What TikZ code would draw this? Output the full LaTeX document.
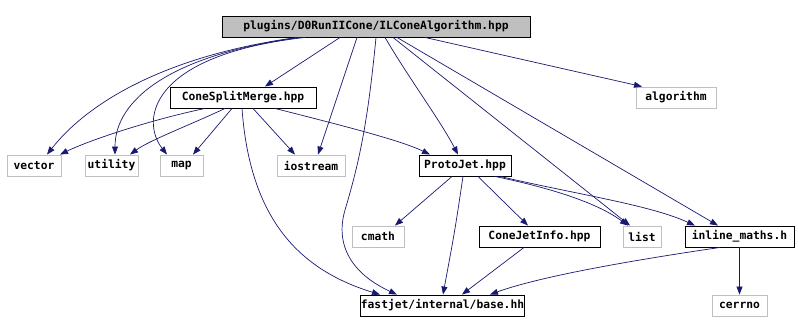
\documentclass[tikz,border=0pt]{standalone}
\usepackage{fontspec}
\newfontfamily\dotfont{DejaVu Sans Mono}
\usetikzlibrary{arrows.meta}
\definecolor{edgeblue}{HTML}{191970}
\definecolor{sysgrey}{HTML}{BFBFBF}

\begin{document}
\begin{tikzpicture}[
  x=1pt, y=-1pt,
  box/.style={draw, line width=0.9pt, minimum height=21pt, inner sep=0pt,
              font=\dotfont\bfseries\fontsize{11.3}{13}\selectfont},
  proj/.style={box, draw=black},
  sys/.style={box, draw=sysgrey},
  root/.style={box, draw=black, fill=sysgrey},
  dep/.style={-{Triangle[length=8pt, width=6pt]}, edgeblue, line width=0.7pt}
]
  \useasboundingbox (0,0) rectangle (798,332);

  \node[root, minimum width=308pt] (Algo) at (376,26.5)
        {plugins/D0RunIICone/ILConeAlgorithm.hpp};

  \node[proj, minimum width=146pt] (Split) at (243,97.5) {ConeSplitMerge.hpp};
  \node[sys,  minimum width=80pt]  (Algm)  at (676,97.5) {algorithm};

  \node[sys,  minimum width=54pt]  (Vec)   at (34,165.5)  {vector};
  \node[sys,  minimum width=53pt]  (Util)  at (111.5,165.5) {utility};
  \node[sys,  minimum width=43pt]  (Map)   at (181.5,165.5) {map};
  \node[sys,  minimum width=68pt]  (Iost)  at (311,165.5) {iostream};
  \node[proj, minimum width=92pt]  (Proto) at (465,165.5) {ProtoJet.hpp};

  \node[sys,  minimum width=52pt]  (Cmath) at (378,236.5) {cmath};
  \node[proj, minimum width=121pt] (Info)  at (539.5,236.5) {ConeJetInfo.hpp};
  \node[sys,  minimum width=38pt]  (List)  at (642,236.5) {list};
  \node[proj, minimum width=109pt] (Inl)   at (739.5,236.5) {inline\_maths.h};

  \node[proj, minimum width=163pt] (Base)  at (442.5,305.5) {fastjet/internal/base.hh};
  \node[sys,  minimum width=55pt]  (Cerr)  at (739.5,305.5) {cerrno};

  \draw[dep] ([xshift=-79]Algo.south) .. controls (170,55) and (90,100) .. ([xshift=13]Vec.north);
  \draw[dep] ([xshift=-76]Algo.south) .. controls (170,55) and (115,100) .. ([xshift=3.5]Util.north);
  \draw[dep] ([xshift=-71]Algo.south) .. controls (150,55) and (140,120) .. ([xshift=-14.5]Map.north);
  \draw[dep] ([xshift=-19]Algo.south) -- ([xshift=7]Iost.north);
  \draw[dep] ([xshift=-36]Algo.south) -- ([xshift=22]Split.north);
  \draw[dep] (Algo.south) .. controls (368,120) and (360,160) .. (345,210)
             .. controls (332,255) and (365,280) .. ([xshift=-45.5]Base.north);
  \draw[dep] ([xshift=9]Algo.south) .. controls (410,80) and (440,120) .. ([xshift=-7]Proto.north);
  \draw[dep] ([xshift=17]Algo.south) -- ([xshift=-12]List.north);
  \draw[dep] ([xshift=21]Algo.south) -- ([xshift=-21.5]Inl.north);
  \draw[dep] ([xshift=49]Algo.south) -- ([xshift=-34]Algm.north);

  \draw[dep] ([xshift=-38]Split.south) .. controls (150,120) and (90,140) .. ([xshift=26]Vec.north);
  \draw[dep] ([xshift=-18]Split.south) .. controls (190,125) and (150,140) .. ([xshift=18.5]Util.north);
  \draw[dep] ([xshift=-11]Split.south) -- ([xshift=11.5]Map.north);
  \draw[dep] ([xshift=10]Split.south) -- ([xshift=-16]Iost.north);
  \draw[dep] ([xshift=32]Split.south) .. controls (340,125) and (400,140) .. ([xshift=-35]Proto.north);
  \draw[dep] ([xshift=-1]Split.south) .. controls (250,220) and (300,270) .. ([xshift=-62.5]Base.north);

  \draw[dep] ([xshift=-13]Proto.south) -- ([xshift=17]Cmath.north);
  \draw[dep] ([xshift=13]Proto.south) -- ([xshift=-11.5]Info.north);
  \draw[dep] ([xshift=-2]Proto.south) .. controls (455,230) .. ([xshift=0.5]Base.north);
  \draw[dep] ([xshift=30]Proto.south) .. controls (560,190) and (600,205) .. ([xshift=-14]List.north);
  \draw[dep] ([xshift=35]Proto.south) .. controls (580,195) and (650,205) .. ([xshift=-44.5]Inl.north);

  \draw[dep] ([xshift=-15.5]Info.south) -- ([xshift=19.5]Base.north);
  \draw[dep] ([xshift=-19.5]Inl.south) .. controls (600,265) and (530,280) .. ([xshift=47.5]Base.north);
  \draw[dep] (Inl.south) -- (Cerr.north);
\end{tikzpicture}
\end{document}
